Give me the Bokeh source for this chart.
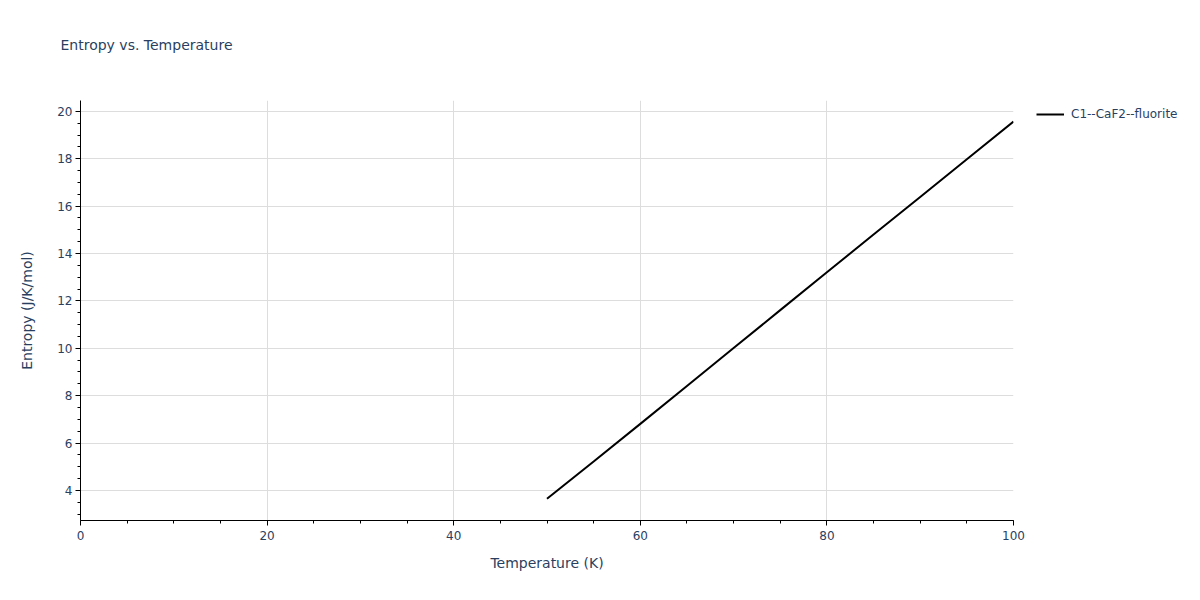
from bokeh.plotting import figure
from bokeh.models import SingleIntervalTicker, Range1d, Legend, LegendItem, Title
from bokeh.embed import file_html
from bokeh.resources import INLINE

# Data
temperature = [50, 55, 60, 65, 70, 75, 80, 85, 90, 95, 100]
entropy = [3.65, 5.22, 6.81, 8.41, 10.01, 11.61, 13.21, 14.80, 16.39, 17.98, 19.57]
series_name = "C1--CaF2--fluorite"
title_text = "Entropy vs. Temperature"

FONT = "DejaVu Sans"
TXT = "#2a3f5f"

p = figure(
    frame_width=933, frame_height=420,
    min_border_left=80, min_border_right=185, min_border_top=100, min_border_bottom=78,
    output_backend="svg", toolbar_location=None,
    x_range=Range1d(0, 100), y_range=Range1d(2.73, 20.46),
    title=title_text,
)
p.outline_line_color = None
p.background_fill_color = "white"
p.border_fill_color = "white"

# spacer between frame and title (pushes the title upward)
spacer = Title(text=" ", text_font_size="1px", standoff=45)
p.add_layout(spacer, "above")

p.title.text_font = FONT
p.title.text_font_size = "14px"
p.title.text_font_style = "normal"
p.title.text_color = TXT
p.title.align = "left"
p.title.offset = -20
p.title.standoff = 0

p.xaxis.ticker = SingleIntervalTicker(interval=20, num_minor_ticks=4)
p.yaxis.ticker = SingleIntervalTicker(interval=2, num_minor_ticks=4)

for ax in (p.xaxis[0], p.yaxis[0]):
    ax.axis_line_color = "black"
    ax.axis_line_width = 1
    ax.major_tick_line_color = "black"
    ax.minor_tick_line_color = "black"
    ax.major_tick_out = 5
    ax.major_tick_in = 0
    ax.minor_tick_out = 3
    ax.minor_tick_in = 0
    ax.major_label_text_font = FONT
    ax.major_label_text_font_size = "12px"
    ax.major_label_text_color = TXT
    ax.axis_label_text_font = FONT
    ax.axis_label_text_font_size = "14px"
    ax.axis_label_text_font_style = "normal"
    ax.axis_label_text_color = TXT

p.xaxis.major_label_standoff = 5
p.yaxis.major_label_standoff = 3
p.xaxis.axis_label = "Temperature (K)"
p.xaxis.axis_label_standoff = 12
p.yaxis.axis_label = "Entropy (J/K/mol)"
p.yaxis.axis_label_standoff = 19

p.xgrid.grid_line_color = "#dddddd"
p.ygrid.grid_line_color = "#dddddd"
p.xgrid.grid_line_width = 1
p.ygrid.grid_line_width = 1

r = p.line(temperature, entropy, line_color="black", line_width=2)

legend = Legend(items=[LegendItem(label=series_name, renderers=[r])],
                location=(23, 396))
legend.label_text_font = FONT
legend.label_text_font_size = "12px"
legend.label_text_color = TXT
legend.glyph_width = 28
legend.glyph_height = 20
legend.label_standoff = 7
legend.padding = 10
legend.margin = 0
legend.spacing = 0
legend.border_line_color = None
legend.background_fill_alpha = 0
p.add_layout(legend, "right")

open("out.html", "w").write(file_html(p, INLINE))
